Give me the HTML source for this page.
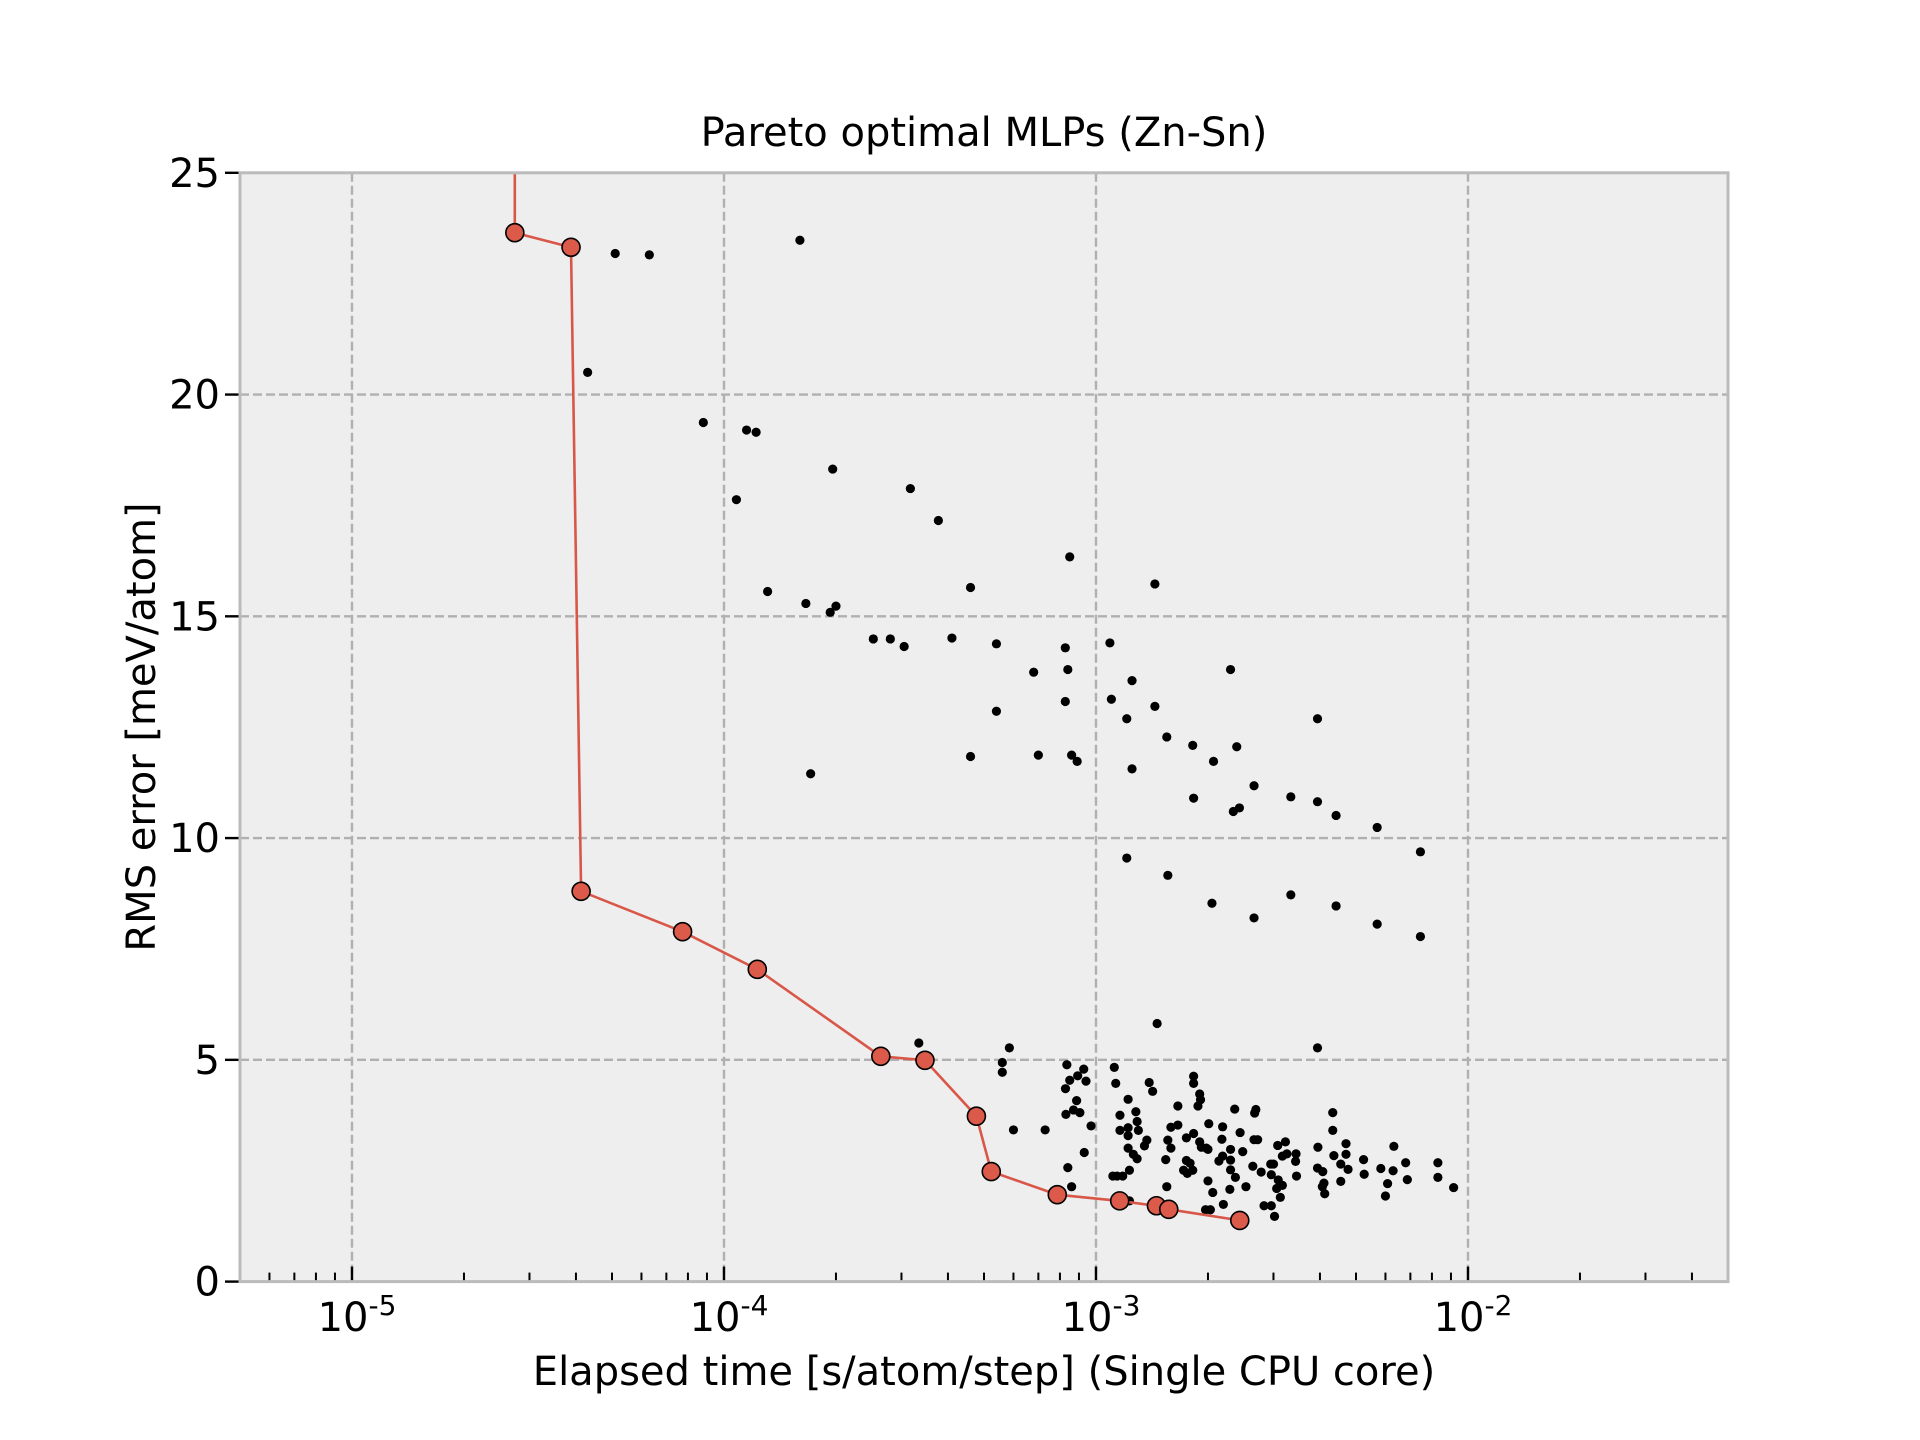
<!DOCTYPE html>
<html><head><meta charset="utf-8"><style>
html,body{margin:0;padding:0;background:#fff;}
svg{display:block;font-family:"DejaVu Sans","Liberation Sans",sans-serif;}
</style></head><body>
<svg id="chart" width="1920" height="1440" viewBox="0 0 1920 1440">
<rect x="0" y="0" width="1920" height="1440" fill="#ffffff"/>
<rect x="240" y="172.8" width="1488" height="1108.8" fill="#eeeeee"/>
<g id="grid"></g>
<g id="ticks"></g>
<g id="series"></g>
<rect x="240" y="172.8" width="1488" height="1108.8" fill="none" stroke="#bbbbbb" stroke-width="3"/>
<text x="984" y="146" text-anchor="middle" font-size="40" fill="#000">Pareto optimal MLPs (Zn-Sn)</text>
<text x="984" y="1385" text-anchor="middle" font-size="40" fill="#000">Elapsed time [s/atom/step] (Single CPU core)</text>
<text x="0" y="0" transform="translate(155,727) rotate(-90)" text-anchor="middle" font-size="40" fill="#000">RMS error [meV/atom]</text>
</svg>
<script>
const xMajorExps = [-5, -4, -3, -2];
const yTicks = [0, 5, 10, 15, 20, 25];
const paretoX = [2.74e-5, 2.74e-5, 3.88e-5, 4.13e-5, 7.74e-5, 1.229e-4, 2.64e-4, 3.47e-4, 4.77e-4, 5.23e-4, 7.87e-4, 1.158e-3, 1.454e-3, 1.569e-3, 2.435e-3];
const paretoY = [40, 23.65, 23.32, 8.80, 7.89, 7.04, 5.08, 4.99, 3.73, 2.48, 1.96, 1.82, 1.71, 1.63, 1.38];
const modelX = [5.1e-5,6.3e-5,1.6e-4,4.3e-5,8.8e-5,1.15e-4,1.22e-4,1.96e-4,3.17e-4,3.77e-4,1.08e-4,1.31e-4,1.66e-4,2.0e-4,1.93e-4,2.52e-4,2.8e-4,3.05e-4,4.1e-4,4.6e-4,5.4e-4,8.5e-4,1.44e-3,1.09e-3,8.27e-4,8.4e-4,6.8e-4,1.25e-3,2.3e-3,8.27e-4,1.1e-3,1.44e-3,5.4e-4,1.21e-3,3.94e-3,1.55e-3,1.82e-3,2.39e-3,4.6e-4,7.0e-4,8.6e-4,8.9e-4,2.07e-3,1.25e-3,1.71e-4,2.66e-3,1.83e-3,3.34e-3,3.94e-3,4.42e-3,2.43e-3,2.34e-3,5.7e-3,7.45e-3,1.21e-3,1.56e-3,2.05e-3,2.66e-3,3.34e-3,4.42e-3,5.7e-3,7.45e-3,1.46e-3,3.94e-3,3.34e-4,5.85e-4,5.6e-4,5.6e-4,6.0e-4,7.3e-4,
8.35e-4,9.27e-4,8.93e-4,8.5e-4,9.4e-4,8.28e-4,8.87e-4,8.7e-4,8.3e-4,9.05e-4,9.7e-4,9.3e-4,8.4e-4,8.6e-4,
1.12e-3,1.13e-3,1.22e-3,1.16e-3,1.28e-3,1.29e-3,1.30e-3,1.16e-3,1.22e-3,1.22e-3,1.22e-3,1.37e-3,1.35e-3,1.26e-3,1.29e-3,1.23e-3,1.11e-3,1.14e-3,1.18e-3,1.23e-3,
1.39e-3,1.42e-3,1.66e-3,1.56e-3,1.59e-3,1.54e-3,1.55e-3,1.59e-3,1.66e-3,1.75e-3,1.83e-3,1.83e-3,1.83e-3,1.9e-3,1.91e-3,1.88e-3,
1.75e-3,1.79e-3,1.72e-3,1.76e-3,1.82e-3,1.9e-3,1.92e-3,1.98e-3,2.0e-3,2.01e-3,2.19e-3,2.18e-3,2.3e-3,2.14e-3,2.19e-3,2.3e-3,2.3e-3,2.37e-3,2.0e-3,2.06e-3,2.29e-3,1.97e-3,2.03e-3,2.2e-3,
2.36e-3,2.44e-3,2.48e-3,2.53e-3,2.64e-3,2.67e-3,2.69e-3,2.66e-3,2.72e-3,2.78e-3,2.95e-3,3.0e-3,2.96e-3,2.83e-3,2.96e-3,3.02e-3,3.08e-3,3.23e-3,3.17e-3,3.26e-3,3.45e-3,3.44e-3,3.46e-3,3.09e-3,3.17e-3,3.06e-3,3.13e-3,
3.95e-3,3.94e-3,4.07e-3,4.1e-3,4.06e-3,4.12e-3,4.33e-3,4.33e-3,4.36e-3,4.55e-3,4.76e-3,4.70e-3,4.70e-3,4.55e-3,5.24e-3,5.26e-3,5.83e-3,6.32e-3,6.29e-3,6.08e-3,6.0e-3,6.8e-3,6.87e-3,8.3e-3,8.3e-3,9.15e-3];
const modelY = [23.18,23.15,23.48,20.50,19.37,19.2,19.15,18.32,17.88,17.16,17.63,15.56,15.29,15.23,15.09,14.49,14.49,14.32,14.51,15.65,14.38,16.34,15.73,14.40,14.29,13.80,13.74,13.55,13.80,13.08,13.13,12.97,12.86,12.69,12.69,12.28,12.09,12.06,11.84,11.87,11.87,11.73,11.73,11.56,11.45,11.18,10.90,10.93,10.82,10.51,10.68,10.60,10.24,9.69,9.55,9.16,8.53,8.20,8.72,8.47,8.06,7.78,5.82,5.27,5.38,5.27,4.94,4.72,3.42,3.42,
4.89,4.79,4.64,4.54,4.52,4.35,4.08,3.87,3.77,3.81,3.51,2.91,2.57,2.14,
4.83,4.47,4.11,3.75,3.83,3.61,3.41,3.41,3.47,3.29,3.01,3.19,3.06,2.87,2.77,2.51,2.38,2.38,2.38,1.82,
4.49,4.29,3.96,3.19,3.01,2.75,2.14,3.48,3.53,3.24,3.34,4.63,4.47,4.23,4.10,3.96,
2.73,2.67,2.51,2.44,2.51,3.15,3.03,3.01,2.98,3.56,3.49,3.21,2.98,2.72,2.83,2.74,2.52,2.35,2.27,2.01,2.08,1.62,1.62,1.74,
3.89,3.36,2.93,2.14,2.60,3.80,3.88,3.20,3.20,2.47,2.65,2.65,2.41,1.71,1.71,1.47,3.07,3.15,2.83,2.88,2.88,2.71,2.38,2.29,2.17,2.10,1.90,
3.03,2.56,2.48,2.22,2.14,1.98,3.81,3.41,2.84,2.65,2.53,3.11,2.87,2.26,2.75,2.42,2.55,3.05,2.50,2.21,1.93,2.68,2.30,2.68,2.35,2.12];

const NS = "http://www.w3.org/2000/svg";
const L = 240, R = 1728, T = 172.8, B = 1281.6;
const xMinLog = Math.log10(5e-6), xMaxLog = Math.log10(5e-2);
function xs(v){ return L + (Math.log10(v) - xMinLog) / (xMaxLog - xMinLog) * (R - L); }
function ys(v){ return B - v / 25 * (B - T); }
function mk(tag, attrs, parent){ const e = document.createElementNS(NS, tag); for (const k in attrs) e.setAttribute(k, attrs[k]); parent.appendChild(e); return e; }

const grid = document.getElementById('grid');
const ticks = document.getElementById('ticks');
const series = document.getElementById('series');

xMajorExps.forEach(function(p){
  const x = xs(Math.pow(10, p));
  const g = mk('line', {x1:x, x2:x, y1:T, y2:B, stroke:'#b0b0b0', 'stroke-width':2.4, 'stroke-dasharray':'9 4'}, grid);
  
  
  const t = mk('line', {x1:x, x2:x, y1:B, y2:B - 15, stroke:'#000', 'stroke-width':2.4}, ticks);
  
  
  const lab = mk('text', {x:x + 5, y:1331, 'text-anchor':'middle', 'font-size':40, fill:'#000'}, ticks);
  
  
  lab.appendChild(document.createTextNode('10'));
  const sup = mk('tspan', {dy:-16, 'font-size':28}, lab);
  sup.textContent = String(p);
});
for (let p = -6; p <= -2; p++) {
  for (let m = 2; m <= 9; m++) {
    const v = m * Math.pow(10, p);
    if (v < 5e-6 || v > 5e-2) continue;
    const x = xs(v);
    const t = mk('line', {x1:x, x2:x, y1:B, y2:B - 9, stroke:'#000', 'stroke-width':2}, ticks);
    
    
  }
}
yTicks.forEach(function(v){
  const y = ys(v);
  if (v > 0 && v < 25) {
    const g = mk('line', {x1:L, x2:R, y1:y, y2:y, stroke:'#b0b0b0', 'stroke-width':2.4, 'stroke-dasharray':'9 4'}, grid);
    
    
  }
  const t = mk('line', {x1:L - 15, x2:L, y1:y, y2:y, stroke:'#000', 'stroke-width':2.4}, ticks);
  
  
  const lab = mk('text', {x:L - 20, y:y + 14, 'text-anchor':'end', 'font-size':40, fill:'#000'}, ticks);
  
  
  lab.textContent = String(v);
});

const clip = mk('clipPath', {id:'plotclip'}, document.getElementById('chart'));
mk('rect', {x:L, y:T, width:R - L, height:B - T}, clip);
const plotG = mk('g', {'clip-path':'url(#plotclip)'}, series);



modelX.forEach(function(xv, i){
  const c = mk('circle', {cx:xs(xv), cy:ys(modelY[i]), r:4.6, fill:'#000'}, plotG);
  
  
});
const pts = paretoX.map(function(xv, i){ return xs(xv).toFixed(1) + ',' + ys(paretoY[i]).toFixed(1); }).join(' ');
const line = mk('polyline', {points:pts, fill:'none', stroke:'#d95748', 'stroke-width':2.6}, plotG);


paretoX.forEach(function(xv, i){
  const c = mk('circle', {cx:xs(xv), cy:ys(paretoY[i]), r:9, fill:'#db5a49', stroke:'#000', 'stroke-width':1.6}, plotG);
  
  
});
</script>
</body></html>
